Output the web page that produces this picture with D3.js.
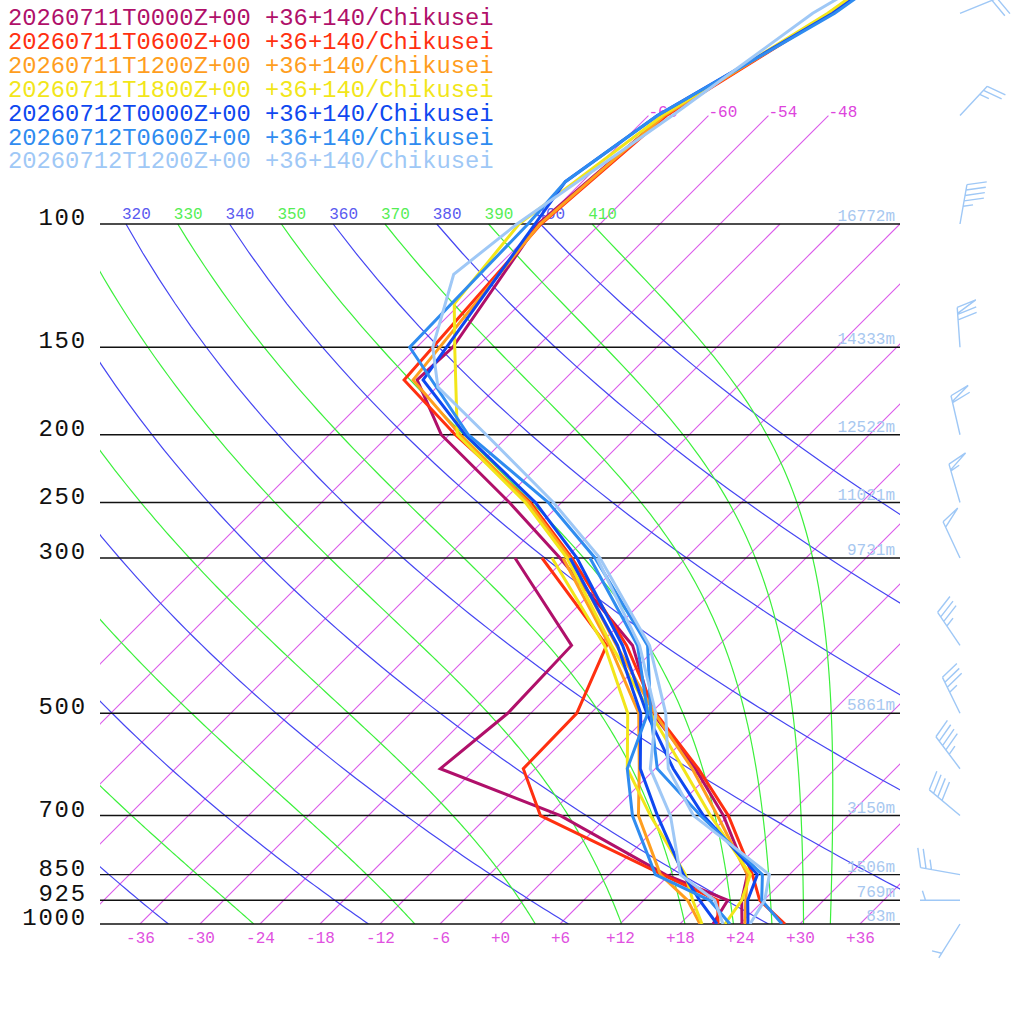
<!DOCTYPE html>
<html>
<head>
<meta charset="utf-8">
<script src="https://cdn.jsdelivr.net/npm/d3@7"></script>
<style>
  body { margin: 0; background: #fff; }
  svg { display: block; }
</style>
</head>
<body>
<div id="chart"></div>
<script>
// run labels and colours
const runs = ["20260711T0000Z+00", "20260711T0600Z+00", "20260711T1200Z+00", "20260711T1800Z+00",
              "20260712T0000Z+00", "20260712T0600Z+00", "20260712T1200Z+00"];
const site = "+36+140/Chikusei";
const runColors = ["#b0106a", "#ff3010", "#ff9e1e", "#f2e61a", "#0f48f0", "#2f8cf0", "#9fc8f6"];

// temperature levels (hPa), null = level not reported for that run
const levels = [1000, 925, 850, 700, 600, 500, 400, 300, 250, 200, 171, 167, 150, 130, 118, 100, 87, 70, 50, 30];
const temp0711_00 = [24.2, 21.8, 19.8, 11.5, 4.0, -5.8, -14.6, -30.6, -41.2, -54.8, null, -62.7, -62.4, null, null, -66.2, null, -64.4, -58.1, -51.9];
const temp0711_06 = [28.5, 23.6, 20.3, 12.0, 4.3, -5.5, -15.2, -29.4, -39.1, -53.4, null, -64.0, null, null, null, -65.9, null, -64.2, -58.0, -51.9];
const temp0711_12 = [24.5, 22.2, 19.8, 10.9, 3.7, -5.6, -16.2, -29.6, -39.3, -52.9, null, -63.1, null, null, null, -66.0, null, -64.4, -58.1, -51.9];
const temp0711_18 = [22.5, 21.8, 20.1, 10.2, 2.8, -6.0, -16.7, -29.9, -39.6, -53.2, null, null, -62.2, -66.6, null, -68.1, null, -64.6, -58.3, -52.2];
const temp0712_00 = [24.8, 22.4, 20.8, 9.5, 1.8, -6.4, -15.6, -28.9, -38.6, -52.4, null, -62.1, null, null, null, -66.5, -67.7, -65.1, -57.8, -51.6];
const temp0712_06 = [28.2, 23.8, 21.3, 9.2, 0.2, -6.0, -13.1, -27.1, -37.3, -52.1, null, null, -66.7, null, null, -67.2, -67.7, -65.1, -57.6, -51.4];
const temp0712_12 = [25.0, 24.1, 22.0, 8.5, 1.3, -4.5, -12.9, -26.6, -36.8, -50.3, -59.9, null, -64.4, null, -69.6, -68.3, null, -63.6, -59.8, -49.0];

// dewpoint levels (hPa)
const dewLevels = [1000, 925, 850, 700, 600, 500, 400, 300];
const dew0711_00 = [21.3, 20.4, 11.6, -4.8, -21.5, -20.3, -20.7, -35.1];
const dew0711_06 = [21.8, 19.4, 11.3, -6.8, -13.2, -13.4, -17.2, -32.4];
const dew0711_12 = [20.0, 16.4, 11.1, 3.0, -1.6, -7.2, -16.9, -30.3];
const dew0711_18 = [20.2, 16.9, 13.6, 4.2, -2.8, -8.3, -17.4, -31.4];
const dew0712_00 = [21.7, 17.6, 13.4, 4.9, -1.5, -7.0, -16.1, -29.6];
const dew0712_06 = [23.0, 18.6, 10.6, 2.4, -2.8, -6.3, -14.1, -27.6];
const dew0712_12 = [22.3, 19.1, 13.1, 6.2, -0.5, -5.5, -13.9, -26.9];

const temps = [temp0711_00, temp0711_06, temp0711_12, temp0711_18, temp0712_00, temp0712_06, temp0712_12];
const dews = [dew0711_00, dew0711_06, dew0711_12, dew0711_18, dew0712_00, dew0712_06, dew0712_12];

// labelled pressure lines and the heights shown at them
const pressureTicks = [100, 150, 200, 250, 300, 500, 700, 850, 925, 1000];
const heightLabels = ["16772m", "14333m", "12522m", "11021m", "9731m", "5861m", "3150m", "1506m", "769m", "83m"];

// winds of the last run (deg, kt)
const windLevels = [1000, 925, 850, 700, 600, 500, 400, 300, 250, 200, 150, 100, 70, 50];
const windDir = [212, 270, 280, 310, 323, 334, 326, 335, 344, 347, 356, 10, 43, 68];
const windSpd = [5, 5, 25, 40, 45, 35, 35, 50, 55, 60, 70, 45, 25, 20];

// chart furniture
const isoTemps = d3.range(-66, 37, 6);
const tempTicks = d3.range(-36, 37, 6);
const dryThetas = d3.range(220, 401, 20);
const moistThetas = d3.range(230, 411, 20);

const width = 1024, height = 1024;
const left = 100, right = 900, bottom = 924;
const mono = "Liberation Mono, DejaVu Sans Mono, monospace";

const y = d3.scaleLog().domain([1000, 100]).range([bottom, 224]);
const xT = d3.scaleLinear().domain([-40, 40]).range([left, right]);
const skewX = (t, p) => xT(t) + (bottom - y(p));

const svg = d3.select("#chart").append("svg")
    .attr("width", width)
    .attr("height", height);

const defs = svg.append("defs");
defs.append("clipPath").attr("id", "clipPlot")
    .append("rect").attr("x", left).attr("y", -300).attr("width", right - left).attr("height", bottom + 300);
defs.append("clipPath").attr("id", "clipGrid")
    .append("rect").attr("x", left).attr("y", 0).attr("width", right - left).attr("height", bottom);

const line = d3.line().x(d => skewX(d[1], d[0])).y(d => y(d[0]));

// isotherms
const isoTop = t => skewX(t, 70) <= 860 ? 70 : 100;
svg.append("g")
    .attr("clip-path", "url(#clipGrid)")
    .selectAll("line")
    .data(isoTemps)
    .join("line")
    .attr("x1", t => skewX(t, 1000)).attr("y1", y(1000))
    .attr("x2", t => skewX(t, isoTop(t))).attr("y2", t => y(isoTop(t)))
    .style("stroke", "#da5aea")
    .style("stroke-width", "1.1px");

svg.append("g")
    .selectAll("text")
    .data(isoTemps.filter(t => isoTop(t) === 70))
    .join("text")
    .attr("x", t => skewX(t, 70))
    .attr("y", y(70) + 1)
    .attr("font-family", mono)
    .attr("font-size", 16)
    .attr("fill", "#dd44dd")
    .text(t => (t > 0 ? "+" : "") + t);

// dry adiabats
const dryPoints = th => d3.range(100, 1001, 10).map(p => [p, th * Math.pow(p / 1000, 0.2857) - 273.15]);

// pseudo-adiabats, started from the dry value at 100 hPa
function dTdp(p, T) {
    const es = 6.112 * Math.exp(17.67 * (T - 273.15) / (T - 29.65));
    const rs = 0.622 * es / (p - es);
    const Rd = 287.04, cp = 1005.7, L = 2.501e6;
    return (1 / p) * (Rd * T + L * rs) / (cp + L * L * rs * 0.622 / (Rd * T * T));
}
function moistPoints(th) {
    let p = 100, T = th * Math.pow(0.1, 0.2857);
    const dp = 5, pts = [[p, T - 273.15]];
    while (p < 1000) {
        const k1 = dTdp(p, T);
        const k2 = dTdp(p + dp / 2, T + dp / 2 * k1);
        const k3 = dTdp(p + dp / 2, T + dp / 2 * k2);
        const k4 = dTdp(p + dp, T + dp * k3);
        T += dp / 6 * (k1 + 2 * k2 + 2 * k3 + k4);
        p += dp;
        pts.push([p, T - 273.15]);
    }
    return pts;
}

const adiabats = svg.append("g").attr("clip-path", "url(#clipGrid)").attr("fill", "none");
adiabats.selectAll(".dry")
    .data(dryThetas)
    .join("path")
    .attr("class", "dry")
    .attr("d", th => line(dryPoints(th)))
    .style("stroke", "#4646f2")
    .style("stroke-width", "1.2px");

adiabats.selectAll(".moist")
    .data(moistThetas)
    .join("path")
    .attr("class", "moist")
    .attr("d", th => line(moistPoints(th)))
    .style("stroke", "#3cf03c")
    .style("stroke-width", "1.2px");

// theta labels above the 100 hPa line (only the part right of the frame is shown)
const charW = 16 * 0.6;
const thetaLabel = th => {
    const x = skewX(th * Math.pow(0.1, 0.2857) - 273.15, 100) - 4;
    const n = Math.max(0, Math.floor((left - x) / charW));
    return { th, x: x + n * charW, text: String(th).slice(n) };
};
svg.append("g")
    .attr("clip-path", "url(#clipGrid)")
    .selectAll("text")
    .data(dryThetas.concat(moistThetas).filter(th => th >= 300).map(thetaLabel).filter(d => d.text.length))
    .join("text")
    .attr("x", d => d.x)
    .attr("y", y(100) - 5)
    .attr("font-family", mono)
    .attr("font-size", 16)
    .attr("fill", d => (d.th / 10) % 2 === 0 ? "#5a5af0" : "#55ee55")
    .text(d => d.text);

// pressure lines
svg.append("g")
    .selectAll("line")
    .data(pressureTicks)
    .join("line")
    .attr("x1", left).attr("x2", right)
    .attr("y1", p => y(p)).attr("y2", p => y(p))
    .attr("stroke", "#111")
    .attr("stroke-width", 1.4);

// pressure axis
const yAxis = svg.append("g")
    .attr("transform", `translate(${left},0)`)
    .call(d3.axisLeft(y).tickValues(pressureTicks).tickSize(0).tickPadding(13).tickFormat(d3.format("d")));
yAxis.select(".domain").remove();
yAxis.selectAll("text")
    .attr("dy", "0.02em")
    .attr("font-family", mono)
    .attr("font-size", 24)
    .attr("letter-spacing", 1.8)
    .attr("fill", "#111");

// temperature axis
const xAxis = svg.append("g")
    .attr("transform", `translate(0,${bottom})`)
    .call(d3.axisBottom(xT).tickValues(tempTicks).tickSize(0).tickPadding(8)
        .tickFormat(d => (d >= 0 ? "+" : "") + d));
xAxis.select(".domain").remove();
xAxis.selectAll("text")
    .attr("font-family", mono)
    .attr("font-size", 16)
    .attr("fill", "#e050e0");

// heights
svg.append("g")
    .selectAll("text")
    .data(pressureTicks)
    .join("text")
    .attr("x", right - 5)
    .attr("y", p => y(p) - 3)
    .attr("text-anchor", "end")
    .attr("font-family", mono)
    .attr("font-size", 16)
    .attr("fill", "#a8c8f0")
    .text((p, i) => heightLabels[i]);

// soundings
const profiles = svg.append("g").attr("clip-path", "url(#clipPlot)");
runs.forEach((r, i) => {
    const tPts = levels.map((p, j) => [p, temps[i][j]]).filter(d => d[1] != null);
    const dPts = dewLevels.map((p, j) => [p, dews[i][j]]);
    [dPts, tPts].forEach(pts => {
        profiles.append("path")
            .datum(pts)
            .attr("d", line)
            .attr("fill", "none")
            .attr("stroke", runColors[i])
            .attr("stroke-width", 3)
            .attr("stroke-linejoin", "miter");
    });
});

// wind barbs of the last run
const barbX = 960, staffLen = 40, featherLen = 20, gap = 5.5;
const barbs = svg.append("g")
    .attr("stroke", runColors[6])
    .attr("stroke-width", 1.4)
    .attr("fill", "none");
windLevels.forEach((p, i) => {
    const a = windDir[i] * Math.PI / 180;
    const ux = Math.sin(a), uy = -Math.cos(a);
    const r = 72 * Math.PI / 180;
    const fx = ux * Math.cos(r) - uy * Math.sin(r), fy = ux * Math.sin(r) + uy * Math.cos(r);
    const bx = barbX, by = y(p);
    const tx = bx + ux * staffLen, ty = by + uy * staffLen;
    const at = d => [tx - ux * d, ty - uy * d];
    const path = d3.path();
    path.moveTo(bx, by); path.lineTo(tx, ty);
    let s = Math.round(windSpd[i] / 5) * 5, pos = 0;
    while (s >= 50) {
        const p0 = at(pos), p1 = at(pos + 6);
        path.moveTo(p0[0], p0[1]);
        path.lineTo(p0[0] + fx * featherLen, p0[1] + fy * featherLen);
        path.lineTo(p1[0], p1[1]);
        pos += 7; s -= 50;
    }
    while (s >= 10) {
        const p0 = at(pos);
        path.moveTo(p0[0], p0[1]);
        path.lineTo(p0[0] + fx * featherLen, p0[1] + fy * featherLen);
        pos += gap; s -= 10;
    }
    if (s >= 5) {
        if (pos === 0) pos = gap;
        const p0 = at(pos);
        path.moveTo(p0[0], p0[1]);
        path.lineTo(p0[0] + fx * featherLen / 2, p0[1] + fy * featherLen / 2);
    }
    barbs.append("path").attr("d", path.toString());
});

// legend
svg.append("g")
    .selectAll("text")
    .data(runs)
    .join("text")
    .attr("x", 8)
    .attr("y", (d, i) => 25 + i * 23.9)
    .attr("font-family", mono)
    .attr("font-size", 23.8)
    .attr("fill", (d, i) => runColors[i])
    .text(d => d + " " + site);
</script>
</body>
</html>
